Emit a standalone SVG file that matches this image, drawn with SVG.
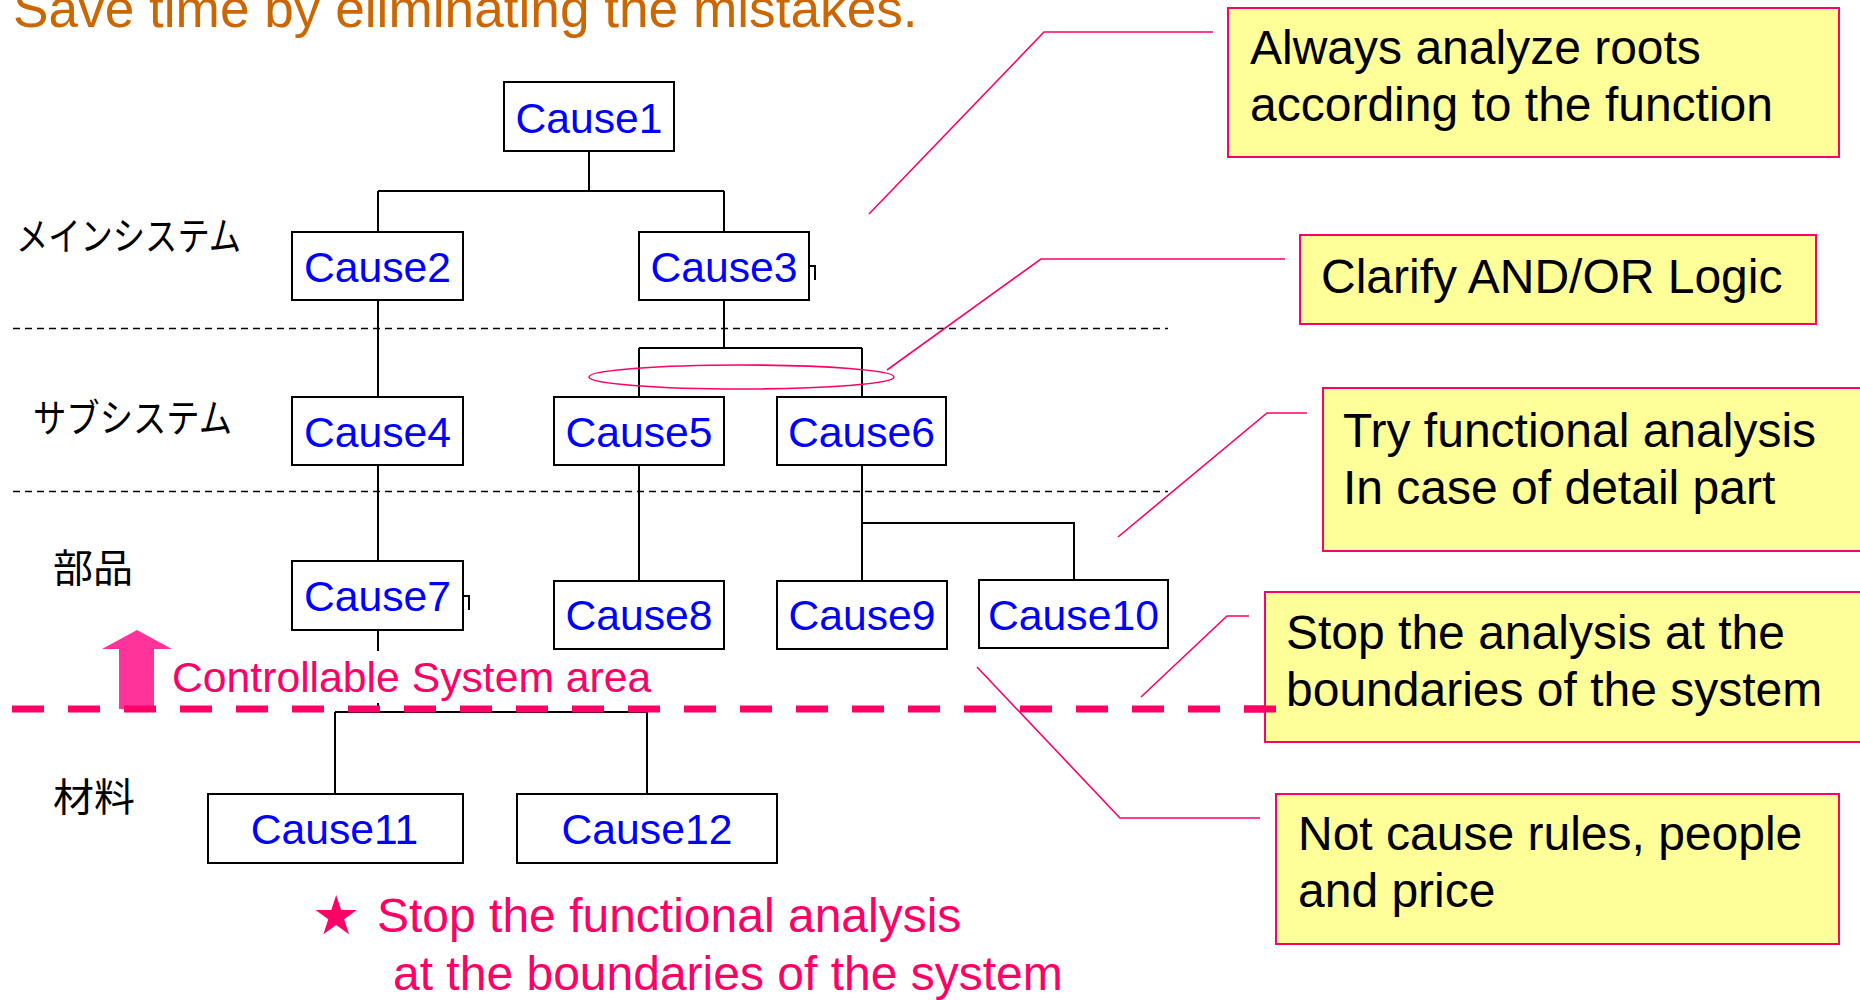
<svg xmlns="http://www.w3.org/2000/svg" width="1860" height="1000" viewBox="0 0 1860 1000">
<style>
.node rect{fill:#FFFFFF;stroke:#000000;stroke-width:2}
.node text{font-family:"Liberation Sans",Arial,sans-serif;font-size:42.7px;fill:#0000FF;text-anchor:middle}
.tree{fill:none;stroke:#000000;stroke-width:2}
.lvl{fill:none;stroke:#000000;stroke-width:1.5;stroke-dasharray:7 5}
.jp{font-family:"Noto Sans CJK JP","Noto Sans CJK SC",sans-serif;font-size:39px;fill:#000000}
.note rect{fill:#FFFF99;stroke:#FF0066;stroke-width:2}
.note text{font-family:"Liberation Sans",Arial,sans-serif;font-size:48px;fill:#000000}
.lead{fill:none;stroke:#FF0066;stroke-width:1.6}
.pink{font-family:"Liberation Sans",Arial,sans-serif;fill:#FF0066}
</style>
<rect x="0" y="0" width="1860" height="1000" fill="#FFFFFF"/>
<text x="13" y="27" font-family="Liberation Sans, Arial, sans-serif" font-size="53.2" fill="#CC6600">Save time by eliminating the mistakes.</text>

<g id="levels">
<line class="lvl" x1="13" y1="328.5" x2="1168" y2="328.5"/>
<line class="lvl" x1="13" y1="491.5" x2="1168" y2="491.5"/>
<text class="jp" x="16" y="250" textLength="225" lengthAdjust="spacingAndGlyphs">メインシステム</text>
<text class="jp" x="33" y="432" textLength="199" lengthAdjust="spacingAndGlyphs">サブシステム</text>
<text class="jp" x="53" y="582" textLength="80" lengthAdjust="spacingAndGlyphs">部品</text>
<text class="jp" x="53" y="811" textLength="82" lengthAdjust="spacingAndGlyphs">材料</text>
</g>

<g id="connectors">
<path class="tree" d="M589,151 V191 M378,191 H724 M378,191 V232 M724,191 V232"/>
<path class="tree" d="M378,300 V397 M378,465 V561 M378,630 V651 M378,703 V712"/>
<path class="tree" d="M724,300 V348 M639,348 H862 M639,348 V397 M862,348 V397"/>
<path class="tree" d="M639,465 V580 M862,465 V580 M862,523 H1074 V580"/>
<path class="tree" d="M335,712 H647 M335,712 V794 M647,712 V794"/>
<path class="tree" d="M809,266 H815 V280 M463,596 H469 V610" stroke-width="1.5"/>
</g>

<g id="cause1" class="node"><rect x="504" y="82" width="170" height="69"/><text x="589" y="133">Cause1</text></g>
<g id="cause2" class="node"><rect x="292" y="232" width="171" height="68"/><text x="377.5" y="282">Cause2</text></g>
<g id="cause3" class="node"><rect x="639" y="232" width="170" height="68"/><text x="724" y="282">Cause3</text></g>
<g id="cause4" class="node"><rect x="292" y="397" width="171" height="68"/><text x="377.5" y="447">Cause4</text></g>
<g id="cause5" class="node"><rect x="554" y="397" width="170" height="68"/><text x="639" y="447">Cause5</text></g>
<g id="cause6" class="node"><rect x="777" y="397" width="169" height="68"/><text x="861.5" y="447">Cause6</text></g>
<g id="cause7" class="node"><rect x="292" y="561" width="171" height="69"/><text x="377.5" y="611">Cause7</text></g>
<g id="cause8" class="node"><rect x="554" y="581" width="170" height="68"/><text x="639" y="630">Cause8</text></g>
<g id="cause9" class="node"><rect x="777" y="581" width="170" height="68"/><text x="862" y="630">Cause9</text></g>
<g id="cause10" class="node"><rect x="979" y="580" width="189" height="68"/><text x="1073.5" y="630">Cause10</text></g>
<g id="cause11" class="node"><rect x="208" y="794" width="255" height="69"/><text x="334.5" y="844">Cause11</text></g>
<g id="cause12" class="node"><rect x="517" y="794" width="260" height="69"/><text x="647" y="844">Cause12</text></g>

<g id="and-or-mark">
<ellipse cx="741.5" cy="377" rx="152.5" ry="12" fill="none" stroke="#FF0066" stroke-width="1.6"/>
</g>

<g id="boundary">
<polygon points="137,630 172,649 154,649 154,709 119,709 119,649 102,649" fill="#FF3399"/>
<line x1="12" y1="709" x2="1276" y2="709" stroke="#FF0066" stroke-width="7" stroke-dasharray="32 24"/>
<text class="pink" x="172" y="692" font-size="42.7">Controllable System area</text>
</g>

<g id="leaders">
<polyline class="lead" points="1213,32 1044,32 869,214"/>
<polyline class="lead" points="1285,259 1041,259 887,370"/>
<polyline class="lead" points="1307,413 1267,413 1118,537"/>
<polyline class="lead" points="1249,616 1227,616 1141,697"/>
<polyline class="lead" points="1260,818 1120,818 977,667"/>
</g>

<g id="note1" class="note"><rect x="1228" y="8" width="611" height="149"/><text x="1250" y="64">Always analyze roots</text><text x="1250" y="121">according to the function</text></g>
<g id="note2" class="note"><rect x="1300" y="235" width="516" height="89"/><text x="1321" y="293">Clarify AND/OR Logic</text></g>
<g id="note3" class="note"><rect x="1323" y="388" width="545" height="163"/><text x="1343" y="447">Try functional analysis</text><text x="1343" y="504">In case of detail part</text></g>
<g id="note4" class="note"><rect x="1265" y="592" width="603" height="150"/><text x="1286" y="649">Stop the analysis at the</text><text x="1286" y="706">boundaries of the system</text></g>
<line x1="1244" y1="709" x2="1276" y2="709" stroke="#FF0066" stroke-width="7"/>
<g id="note5" class="note"><rect x="1276" y="794" width="563" height="150"/><text x="1298" y="850">Not cause rules, people</text><text x="1298" y="907">and price</text></g>

<text class="pink" font-size="48"><tspan x="312" y="934" font-family="DejaVu Sans, sans-serif" font-size="54">★</tspan><tspan x="377" y="932">Stop the functional analysis</tspan><tspan x="393" y="990">at the boundaries of the system</tspan></text>
</svg>
